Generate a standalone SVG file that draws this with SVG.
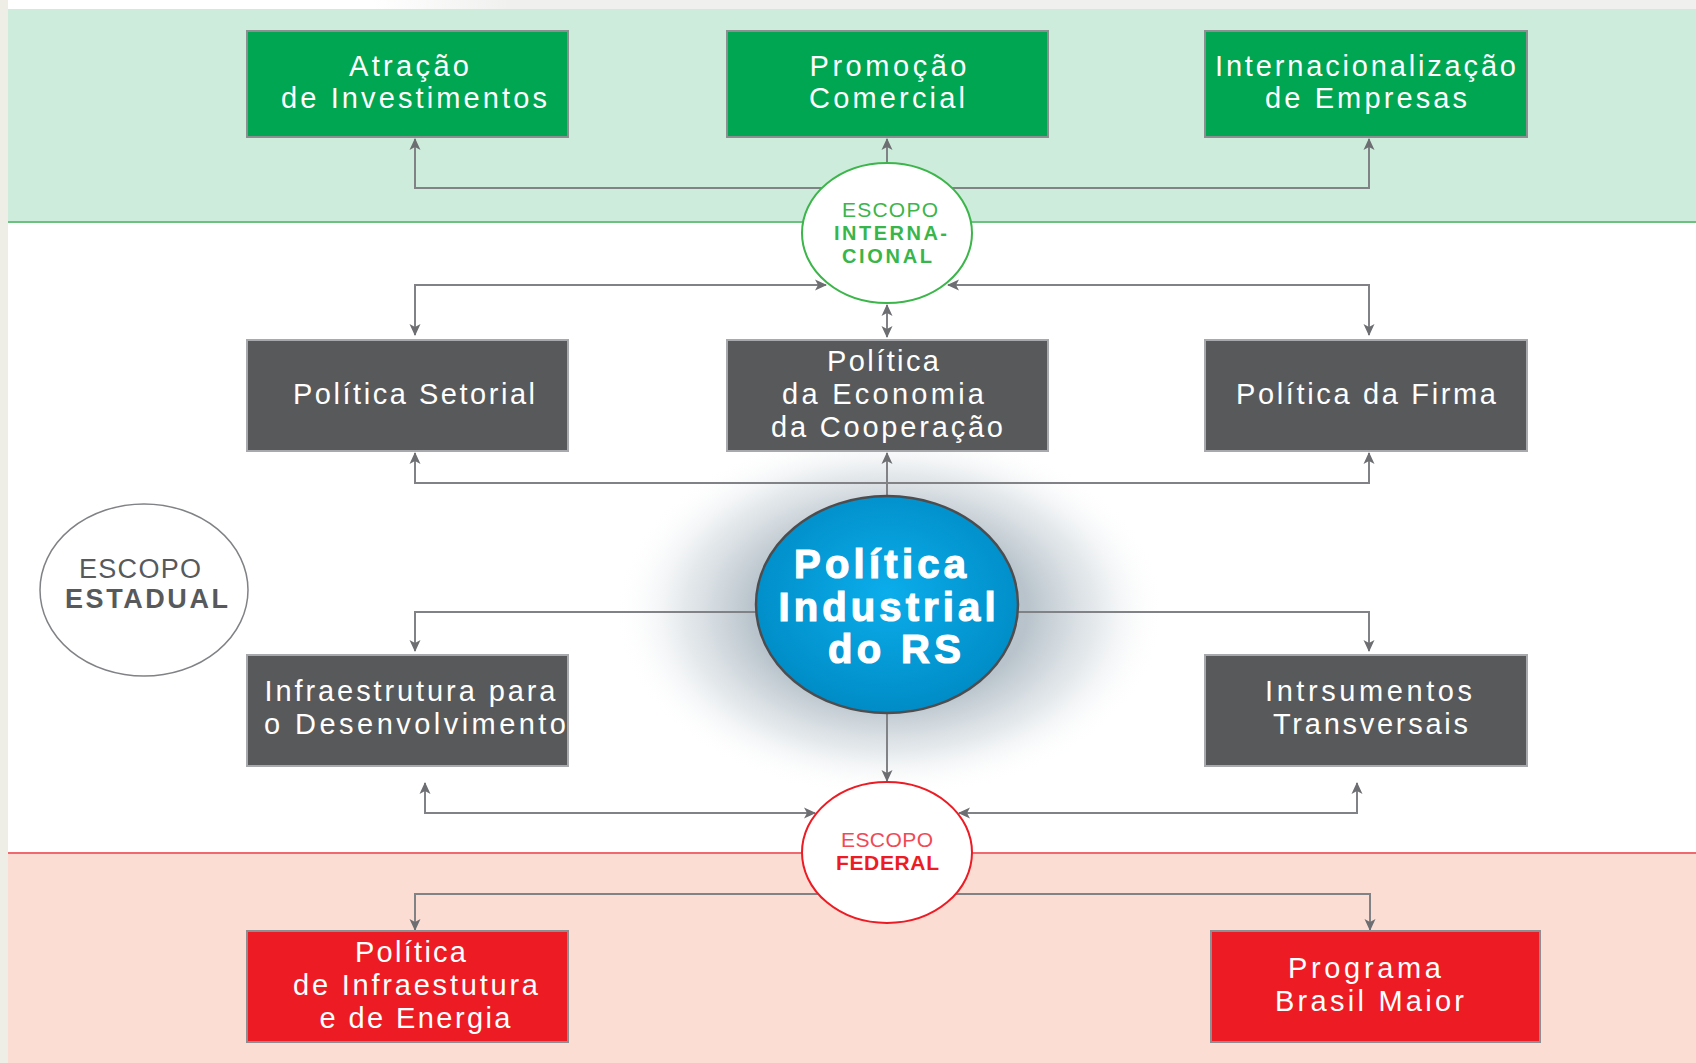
<svg xmlns="http://www.w3.org/2000/svg" width="1696" height="1063" viewBox="0 0 1696 1063">
<defs>
<style>
.bt{font-family:"Liberation Sans",Arial,sans-serif;font-size:29px;fill:#ffffff;text-anchor:middle}
.con{fill:none;stroke:#808285;stroke-width:2}
.box{stroke:#8c8e91;stroke-width:2}
.g{fill:#00a651}
.d{fill:#58595b;stroke:#a7a9ac}
.r{fill:#ed1c24}
.sc{font-family:"Liberation Sans",Arial,sans-serif;text-anchor:middle}
.big{font-size:40px;font-weight:bold;fill:#ffffff;stroke:#ffffff;stroke-width:1.2}
</style>
<marker id="ah" viewBox="0 0 12 12" markerWidth="12" markerHeight="12" refX="11" refY="6" orient="auto-start-reverse" markerUnits="userSpaceOnUse">
<path d="M0,0.5 L12,6 L0,11.5 L3,6 z" fill="#6d6e71"/>
</marker>
<radialGradient id="glow" cx="0.5" cy="0.5" r="0.5">
<stop offset="0" stop-color="#b3bfc8"/>
<stop offset="0.5" stop-color="#b8c3cb"/>
<stop offset="0.75" stop-color="#dce2e6" stop-opacity="0.75"/>
<stop offset="1" stop-color="#ffffff" stop-opacity="0"/>
</radialGradient>
<radialGradient id="blue" cx="0.5" cy="0.45" r="0.55">
<stop offset="0" stop-color="#0badeb"/>
<stop offset="1" stop-color="#008cc6"/>
</radialGradient>
<linearGradient id="topg" x1="0" y1="0" x2="1" y2="0">
<stop offset="0" stop-color="#ffffff"/>
<stop offset="0.22" stop-color="#ffffff"/>
<stop offset="0.3" stop-color="#f0f0ef"/>
<stop offset="1" stop-color="#f0f0ef"/>
</linearGradient>
</defs>
<rect x="0" y="0" width="1696" height="1063" fill="#ffffff"/>
<rect x="0" y="0" width="1696" height="9" fill="url(#topg)"/>
<rect x="8" y="9" width="1688" height="213" fill="#cdecdb"/>
<line x1="8" y1="222" x2="1696" y2="222" stroke="#6cc17f" stroke-width="2"/>
<rect x="8" y="853" width="1688" height="210" fill="#fbddd4"/>
<line x1="8" y1="853" x2="1696" y2="853" stroke="#ef6a6f" stroke-width="2"/>
<rect x="0" y="0" width="8" height="1063" fill="#efeee6"/>
<ellipse cx="890" cy="612" rx="275" ry="185" fill="url(#glow)"/>
<g id="connectors">
<path class="con" d="M415,139 V188 H1369 V139" marker-start="url(#ah)" marker-end="url(#ah)"/>
<path class="con" d="M887,163 V139" marker-end="url(#ah)"/>
<path class="con" d="M826,285 H415 V335" marker-start="url(#ah)" marker-end="url(#ah)"/>
<path class="con" d="M948,285 H1369 V335" marker-start="url(#ah)" marker-end="url(#ah)"/>
<path class="con" d="M887,305 V337" marker-start="url(#ah)" marker-end="url(#ah)"/>
<path class="con" d="M415,453 V483 H1369 V453" marker-start="url(#ah)" marker-end="url(#ah)"/>
<path class="con" d="M887,496 V453" marker-end="url(#ah)"/>
<path class="con" d="M415,651 V612 H1369 V651" marker-start="url(#ah)" marker-end="url(#ah)"/>
<path class="con" d="M887,713 V781" marker-end="url(#ah)"/>
<path class="con" d="M425,783 V813 H815" marker-start="url(#ah)" marker-end="url(#ah)"/>
<path class="con" d="M1357,783 V813 H959" marker-start="url(#ah)" marker-end="url(#ah)"/>
<path class="con" d="M415,930 V894 H1370 V930" marker-start="url(#ah)" marker-end="url(#ah)"/>
</g>
<g id="atracao">
<rect class="box g" x="247" y="31" width="321" height="106"/>
<text class="bt" x="409" y="76" textLength="120" lengthAdjust="spacing">Atração</text>
<text class="bt" x="414" y="108" textLength="266" lengthAdjust="spacing">de Investimentos</text>
</g>
<g id="promocao">
<rect class="box g" x="727" y="31" width="321" height="106"/>
<text class="bt" x="888" y="76" textLength="157" lengthAdjust="spacing">Promoção</text>
<text class="bt" x="887" y="108" textLength="156" lengthAdjust="spacing">Comercial</text>
</g>
<g id="internacionalizacao">
<rect class="box g" x="1205" y="31" width="322" height="106"/>
<text class="bt" x="1365.5" y="76" textLength="301" lengthAdjust="spacing">Internacionalização</text>
<text class="bt" x="1366" y="108" textLength="202" lengthAdjust="spacing">de Empresas</text>
</g>
<g id="setorial">
<rect class="box d" x="247" y="340" width="321" height="111"/>
<text class="bt" x="414" y="404" textLength="242" lengthAdjust="spacing">Política Setorial</text>
</g>
<g id="cooperacao">
<rect class="box d" x="727" y="340" width="321" height="111"/>
<text class="bt" x="883" y="371" textLength="112" lengthAdjust="spacing">Política</text>
<text class="bt" x="883" y="404" textLength="202" lengthAdjust="spacing">da Economia</text>
<text class="bt" x="887" y="437" textLength="232" lengthAdjust="spacing">da Cooperação</text>
</g>
<g id="firma">
<rect class="box d" x="1205" y="340" width="322" height="111"/>
<text class="bt" x="1366" y="404" textLength="260" lengthAdjust="spacing">Política da Firma</text>
</g>
<g id="infraestrutura">
<rect class="box d" x="247" y="655" width="321" height="111"/>
<text class="bt" x="410" y="701" textLength="291" lengthAdjust="spacing">Infraestrutura para</text>
<text class="bt" x="415" y="734" textLength="302" lengthAdjust="spacing">o Desenvolvimento</text>
</g>
<g id="instrumentos">
<rect class="box d" x="1205" y="655" width="322" height="111"/>
<text class="bt" x="1368.5" y="701" textLength="207" lengthAdjust="spacing">Intrsumentos</text>
<text class="bt" x="1370.5" y="734" textLength="195" lengthAdjust="spacing">Transversais</text>
</g>
<g id="politica-infra">
<rect class="box r" x="247" y="931" width="321" height="111"/>
<text class="bt" x="410.5" y="962" textLength="111" lengthAdjust="spacing">Política</text>
<text class="bt" x="415.5" y="995" textLength="245" lengthAdjust="spacing">de Infraestutura</text>
<text class="bt" x="415" y="1028" textLength="191" lengthAdjust="spacing">e de Energia</text>
</g>
<g id="brasil-maior">
<rect class="box r" x="1211" y="931" width="329" height="111"/>
<text class="bt" x="1364.5" y="978" textLength="153" lengthAdjust="spacing">Programa</text>
<text class="bt" x="1369.5" y="1011" textLength="189" lengthAdjust="spacing">Brasil Maior</text>
</g>
<g id="escopo-internacional">
<ellipse cx="887" cy="233" rx="85" ry="70" fill="#ffffff" stroke="#3cb54a" stroke-width="2"/>
<text class="sc" x="890" y="217" font-size="21" fill="#3cb54a" textLength="96" lengthAdjust="spacing">ESCOPO</text>
<text class="sc" x="890.5" y="240" font-size="20" font-weight="bold" fill="#39b54a" textLength="113" lengthAdjust="spacing">INTERNA-</text>
<text class="sc" x="887" y="263" font-size="20" font-weight="bold" fill="#39b54a" textLength="90" lengthAdjust="spacing">CIONAL</text>
</g>
<g id="politica-industrial">
<ellipse cx="887" cy="604.5" rx="131" ry="108.5" fill="url(#blue)" stroke="#4d4d4f" stroke-width="2.5"/>
<text class="sc big" x="880" y="578" textLength="172" lengthAdjust="spacing">Política</text>
<text class="sc big" x="887" y="621" textLength="217" lengthAdjust="spacing">Industrial</text>
<text class="sc big" x="894.5" y="663" textLength="133" lengthAdjust="spacing">do RS</text>
</g>
<g id="escopo-estadual">
<ellipse cx="144" cy="590" rx="104" ry="86" fill="#ffffff" stroke="#808285" stroke-width="1.5"/>
<text class="sc" x="140" y="578" font-size="27" fill="#58595b" textLength="122" lengthAdjust="spacing">ESCOPO</text>
<text class="sc" x="146.5" y="608" font-size="27" font-weight="bold" fill="#58595b" textLength="163" lengthAdjust="spacing">ESTADUAL</text>
</g>
<g id="escopo-federal">
<ellipse cx="887" cy="852.5" rx="85" ry="70.5" fill="#ffffff" stroke="#ed1c24" stroke-width="2"/>
<text class="sc" x="887" y="847" font-size="21" fill="#ef4a55" textLength="92" lengthAdjust="spacing">ESCOPO</text>
<text class="sc" x="887.5" y="870" font-size="21" font-weight="bold" fill="#ed1c24" textLength="103" lengthAdjust="spacing">FEDERAL</text>
</g>
</svg>
